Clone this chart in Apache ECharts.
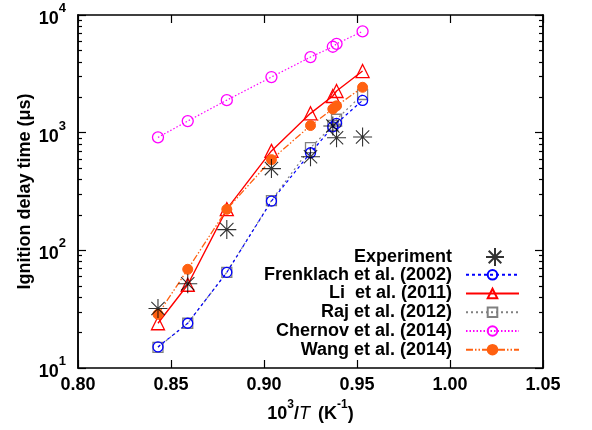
<!DOCTYPE html>
<html>
<head>
<meta charset="utf-8">
<script src="https://cdn.jsdelivr.net/npm/echarts@6/dist/echarts.min.js"></script>
<style>html,body{margin:0;padding:0;background:#fff}#c{width:592px;height:430px}</style>
</head>
<body>
<div id="c"></div>
<script>
// ---- data ----
var invT = [0.843, 0.859, 0.880, 0.904, 0.925, 0.937, 0.939, 0.953];
var experiment = [32, 52, 150, 495, 625, 1140, 905, 920];
var frenklach = [15.1, 24, 65, 262, 675, 1120, 1200, 1880];
var li = [24, 51, 224, 700, 1460, 2050, 2260, 3340];
var raj = [15, 24, 65, 265, 745, 1150, 1300, 2110];
var chernov = [912, 1255, 1890, 2970, 4390, 5370, 5690, 7260];
var wang = [28.6, 69, 223, 590, 1150, 1590, 1690, 2430];
var seriesNames = ['Experiment', 'Frenklach et al. (2002)', 'Li  et al. (2011)', 'Raj et al. (2012)', 'Chernov et al. (2014)', 'Wang et al. (2014)'];
var xTicks = [0.80, 0.85, 0.90, 0.95, 1.00, 1.05];
var yMajor = [10, 100, 1000, 10000];
var yMinor = [20,30,40,50,60,70,80,90,200,300,400,500,600,700,800,900,2000,3000,4000,5000,6000,7000,8000,9000];

function pairs(ys) { return invT.map(function (x, i) { return [x, ys[i]]; }); }

var FONT = 'Liberation Sans';
var starPath = 'path://M10,0L10,20M0,10L20,10M3,3L17,17M3,17L17,3';

var chart = echarts.init(document.getElementById('c'), null, {renderer: 'canvas'});

function yAxisDef(pos, values, len, labels) {
  return {
    type: 'log', logBase: 10, min: yMajor[0], max: yMajor[yMajor.length - 1], position: pos,
    axisLine: {show: true, lineStyle: {color: '#000', width: 1.5}},
    axisTick: {show: true, inside: true, length: len, customValues: values, lineStyle: {color: '#000', width: 1.2}},
    axisLabel: labels ? {
      show: true, margin: 12, customValues: yMajor,
      formatter: function (v) { return '{b|10}{s|' + Math.round(Math.log10(v)) + '}'; },
      rich: {
        b: {fontFamily: FONT, fontWeight: 'bold', fontSize: 18, color: '#000', verticalAlign: 'bottom', lineHeight: 26},
        s: {fontFamily: FONT, fontWeight: 'bold', fontSize: 13, color: '#000', verticalAlign: 'top', lineHeight: 26}
      }
    } : {show: false},
    splitLine: {show: false},
    name: labels && pos === 'left' ? 'Ignition delay time (\u03bcs)' : '',
    nameLocation: 'middle', nameGap: 44, nameMoveOverlap: false,
    nameTextStyle: {fontFamily: FONT, fontWeight: 'bold', fontSize: 18, color: '#000'}
  };
}

function legendDef(name, idx, iconW, right, padR) {
  var rowY = [256, 274.8, 293.5, 312.2, 331, 349.7];
  return {
    data: [name], right: right, top: rowY[idx] - 9, padding: 0, align: 'right',
    itemWidth: iconW, itemHeight: idx === 0 ? 18 : 12, selectedMode: false,
    textStyle: {fontFamily: FONT, fontWeight: 'bold', fontSize: 18, color: '#000', padding: [0, padR, 0, 0], lineHeight: 18}
  };
}

var option = {
  animation: false,
  backgroundColor: '#fff',
  grid: {left: 78, right: 49, top: 15, bottom: 62, containLabel: false},
  legend: [
    legendDef(seriesNames[0], 0, 18, 87, 29),
    legendDef(seriesNames[1], 1, 53, 72, 9),
    legendDef(seriesNames[2], 2, 53, 72, 9),
    legendDef(seriesNames[3], 3, 53, 72, 9),
    legendDef(seriesNames[4], 4, 53, 72, 9),
    legendDef(seriesNames[5], 5, 53, 72, 9)
  ],
  xAxis: [{
    type: 'value', min: xTicks[0], max: xTicks[xTicks.length - 1], interval: 0.05, position: 'bottom',
    axisLine: {show: true, onZero: false, lineStyle: {color: '#000', width: 1.5}},
    axisTick: {show: true, inside: true, length: 8, lineStyle: {color: '#000', width: 1.2}},
    axisLabel: {show: true, margin: 8, fontFamily: FONT, fontWeight: 'bold', fontSize: 18, color: '#000',
      formatter: function (v) { return v.toFixed(2); }},
    splitLine: {show: false},
    name: '{b|10}{s|3}{b|/}{i|T}{b| (K}{s|-1}{b|)}', nameLocation: 'middle', nameGap: 26,
    nameTextStyle: {
      rich: {
        b: {fontFamily: FONT, fontWeight: 'bold', fontSize: 18, color: '#000', verticalAlign: 'bottom', lineHeight: 24},
        i: {fontFamily: FONT, fontStyle: 'italic', fontSize: 18, color: '#000', verticalAlign: 'bottom', lineHeight: 24, padding: [0, 3, 0, 0]},
        s: {fontFamily: FONT, fontWeight: 'bold', fontSize: 12, color: '#000', verticalAlign: 'top', lineHeight: 24}
      }
    }
  }, {
    type: 'value', min: xTicks[0], max: xTicks[xTicks.length - 1], interval: 0.05, position: 'top',
    axisLine: {show: true, onZero: false, lineStyle: {color: '#000', width: 1.5}},
    axisTick: {show: true, inside: true, length: 8, lineStyle: {color: '#000', width: 1.2}},
    axisLabel: {show: false}, splitLine: {show: false}
  }],
  yAxis: [
    yAxisDef('left', yMajor, 8, true),
    yAxisDef('left', yMinor, 4, false),
    yAxisDef('right', yMajor, 8, false),
    yAxisDef('right', yMinor, 4, false)
  ],
  series: [
    {
      name: seriesNames[0], type: 'scatter', data: pairs(experiment), symbol: starPath, symbolSize: 19, z: 10,
      itemStyle: {color: 'rgba(0,0,0,0)', borderColor: '#000', borderWidth: 1.1}
    },
    {
      name: seriesNames[1], type: 'line', data: pairs(frenklach), symbol: 'circle', symbolSize: 10, z: 5,
      lineStyle: {color: '#0000ff', width: 1.2, type: [3, 3]},
      itemStyle: {color: 'rgba(0,0,0,0)', borderColor: '#0000ff', borderWidth: 1.3}
    },
    {
      name: seriesNames[2], type: 'line', data: pairs(li), symbol: 'triangle', symbolSize: 13, z: 6,
      lineStyle: {color: '#ff0000', width: 1.4, type: 'solid'},
      itemStyle: {color: 'rgba(0,0,0,0)', borderColor: '#ff0000', borderWidth: 1.3}
    },
    {
      name: seriesNames[3], type: 'line', data: pairs(raj), symbol: 'rect', symbolSize: 10, z: 4,
      lineStyle: {color: '#808080', width: 1.2, type: [2, 3]},
      itemStyle: {color: 'rgba(0,0,0,0)', borderColor: '#808080', borderWidth: 1.3}
    },
    {
      name: seriesNames[4], type: 'line', data: pairs(chernov), symbol: 'circle', symbolSize: 11, z: 5,
      lineStyle: {color: '#ff00ff', width: 1.2, type: [1.5, 2]},
      itemStyle: {color: 'rgba(0,0,0,0)', borderColor: '#ff00ff', borderWidth: 1.3}
    },
    {
      name: seriesNames[5], type: 'line', data: pairs(wang), symbol: 'circle', symbolSize: 10, z: 7,
      lineStyle: {color: '#ff6010', width: 1.3, type: [7, 2, 1.5, 2, 1.5, 2]},
      itemStyle: {color: '#ff6010', borderColor: '#ff6010', borderWidth: 1}
    }
  ]
};
chart.setOption(option);
</script>
</body>
</html>
